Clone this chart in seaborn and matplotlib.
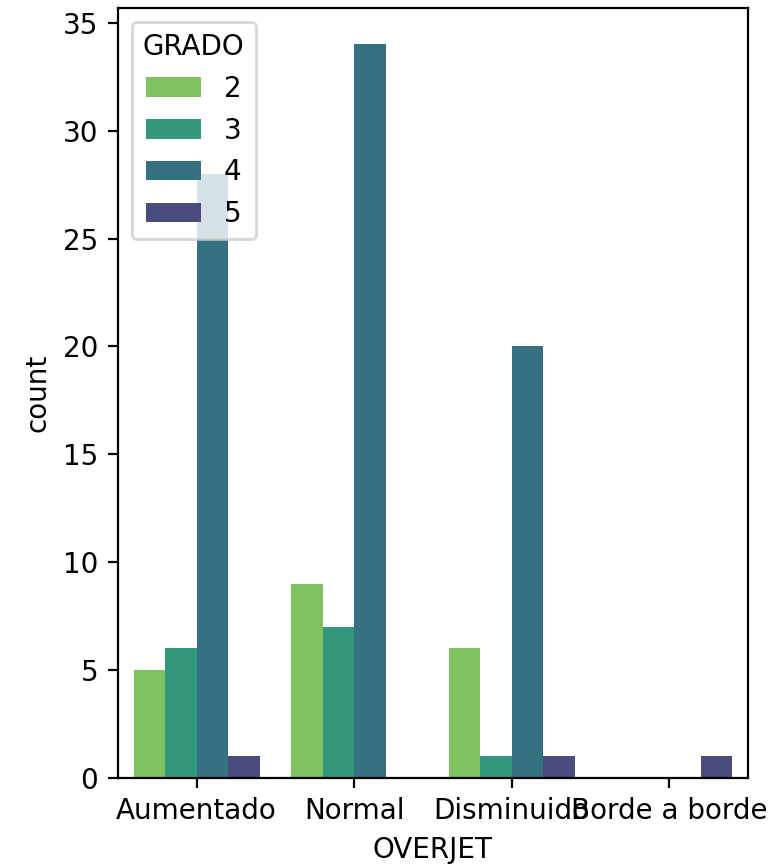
import seaborn as sns
import matplotlib.pyplot as plt
import pandas as pd

# categorias del eje x y niveles de GRADO
overjet = ["Aumentado", "Normal", "Disminuido", "Borde a borde"]
grados = ["2", "3", "4", "5"]

# conteos (filas = overjet, columnas = grado)
conteo_aumentado = [5, 6, 28, 1]
conteo_normal = [9, 7, 34, 0]
conteo_disminuido = [6, 1, 20, 1]
conteo_borde = [0, 0, 0, 1]

conteos = [conteo_aumentado, conteo_normal, conteo_disminuido, conteo_borde]

filas = []
for cat, fila in zip(overjet, conteos):
    for g, n in zip(grados, fila):
        filas += [{"OVERJET": cat, "GRADO": g}] * n
df = pd.DataFrame(filas)

colores = sns.color_palette("viridis_r", len(grados))

fig, ax = plt.subplots(figsize=(3.9, 4.33), dpi=200)
sns.countplot(data=df, x="OVERJET", hue="GRADO", order=overjet,
              hue_order=grados, palette=colores, ax=ax)
ax.set_ylim(0, 35.7)
sns.move_legend(ax, "upper left")
fig.subplots_adjust(left=0.151, right=0.959, top=0.991, bottom=0.102)
plt.savefig("out.png", dpi=200)
